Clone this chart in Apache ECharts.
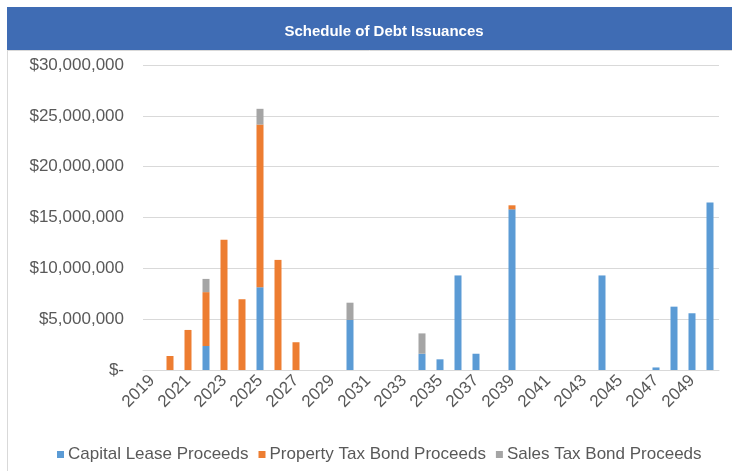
<!DOCTYPE html>
<html>
<head>
<meta charset="utf-8">
<script src="https://cdn.jsdelivr.net/npm/echarts@6/dist/echarts.min.js"></script>
<style>
html,body{margin:0;padding:0;background:#fff;}
#chart{width:732px;height:471px;}
</style>
</head>
<body>
<div id="chart"></div>
<script>
const years = [];
for (let y = 2019; y <= 2050; y++) years.push(String(y));

const capitalLease = [null,null,null,2360000,null,null,8140000,null,null,null,null,4920000,null,null,null,1600000,1050000,9300000,1600000,null,15800000,null,null,null,null,9300000,null,null,250000,6230000,5580000,16470000];
const propertyTax  = [null,1380000,3940000,5300000,12800000,6960000,16000000,10830000,2730000,null,null,null,null,null,null,null,null,null,null,null,400000,null,null,null,null,null,null,null,null,null,null,null];
const salesTax     = [null,null,null,1300000,null,null,1550000,null,null,null,null,1700000,null,null,null,2000000,null,null,null,null,null,null,null,null,null,null,null,null,null,null,null,null];

const seriesNames = ['Capital Lease Proceeds','Property Tax Bond Proceeds','Sales Tax Bond Proceeds'];
const colors = ['#5B9BD5','#ED7D31','#A5A5A5'];
const font = 'Liberation Sans, Arial, sans-serif';

function fmt(v){
  if (v === 0) return '$-';
  return '$' + v.toString().replace(/\B(?=(\d{3})+(?!\d))/g, ',');
}

const chart = echarts.init(document.getElementById('chart'));
const mk = (name, data, i) => ({
  name, type:'bar', stack:'total', data,
  barWidth: 7,
  itemStyle:{color:colors[i]},
  emphasis:{disabled:true}
});
chart.setOption({
  animation:false,
  textStyle:{fontFamily:font},
  graphic:[
    {type:'rect', shape:{x:7,y:7,width:725,height:43}, style:{fill:'#3F6CB4'}, z:-1},
    {type:'line', shape:{x1:7.5,y1:50,x2:7.5,y2:471}, style:{stroke:'#D9D9D9',lineWidth:1}},
    {type:'line', shape:{x1:7,y1:50.5,x2:732,y2:50.5}, style:{stroke:'#D9D9D9',lineWidth:1}}
  ],
  title:{
    text:'Schedule of Debt Issuances',
    left:379, top:19, textAlign:'center',
    textStyle:{color:'#fff', fontSize:15, fontWeight:'bold', fontFamily:font}
  },
  legend:{
    data:seriesNames,
    left:52, top:441, width:700,
    itemWidth:7, itemHeight:7, itemGap:10,
    icon:'rect',
    textStyle:{color:'#595959', fontSize:17, fontFamily:font, padding:[0,0,0,-1]}
  },
  grid:{left:143, right:13, top:65, bottom:101, containLabel:false},
  xAxis:{
    type:'category', data:years,
    axisLine:{lineStyle:{color:'#D9D9D9'}},
    axisTick:{show:false},
    axisLabel:{interval:1, rotate:45, color:'#595959', fontSize:17, fontFamily:font, margin:8}
  },
  yAxis:{
    type:'value', min:0, max:30000000, interval:5000000,
    axisLine:{show:false}, axisTick:{show:false},
    splitLine:{lineStyle:{color:'#D9D9D9'}},
    axisLabel:{formatter:fmt, color:'#595959', fontSize:17, fontFamily:font, margin:19}
  },
  series:[
    mk(seriesNames[0], capitalLease, 0),
    mk(seriesNames[1], propertyTax, 1),
    mk(seriesNames[2], salesTax, 2)
  ]
});
</script>
</body>
</html>
